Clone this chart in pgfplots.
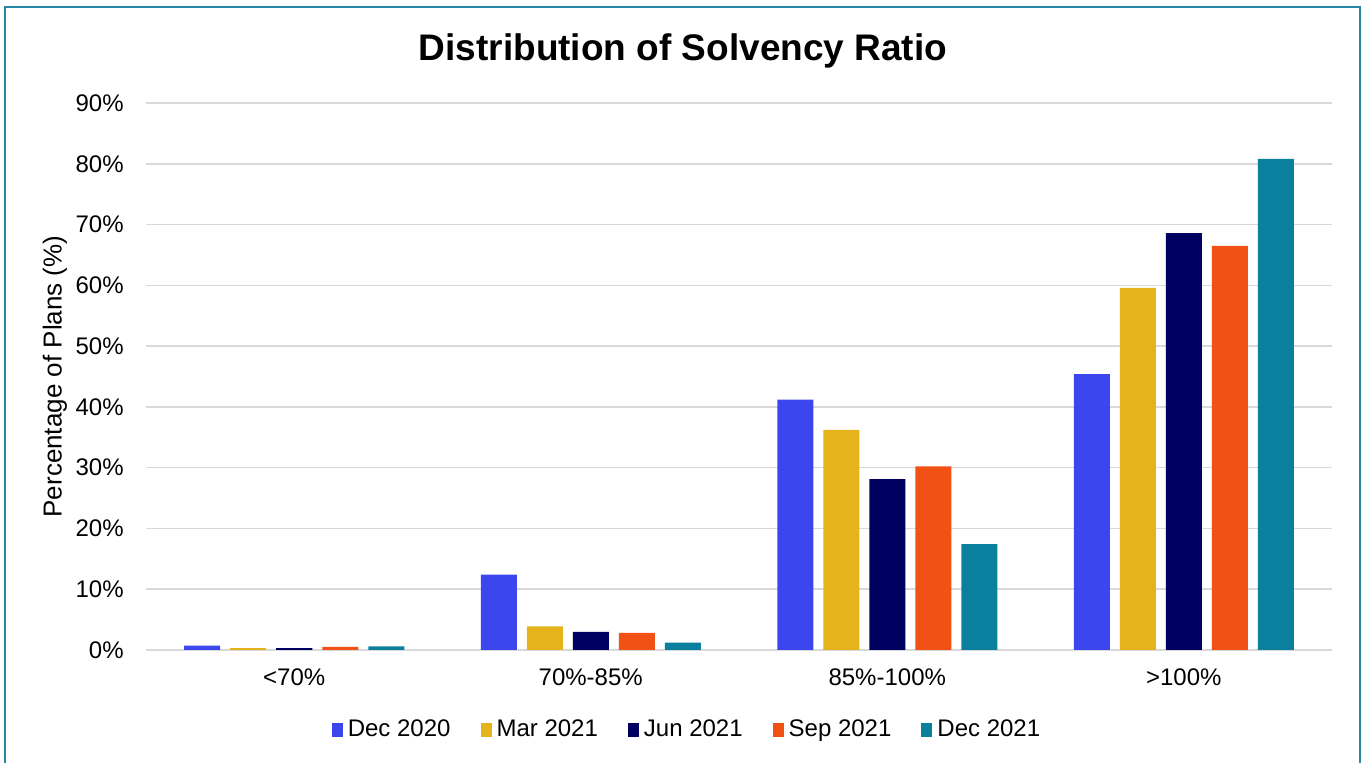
\documentclass[border=0pt]{standalone}
\usepackage{fontspec}
\setmainfont{Liberation Sans}
\usepackage{pgfplots}
\pgfplotsset{compat=1.18}
\definecolor{cA}{HTML}{3C46EE}
\definecolor{cB}{HTML}{E5B31C}
\definecolor{cC}{HTML}{000060}
\definecolor{cD}{HTML}{F25116}
\definecolor{cE}{HTML}{0A809E}
\definecolor{gridgray}{HTML}{D9D9D9}
\definecolor{frame}{HTML}{2A86A6}
\pgfplotsset{legsq/.style={legend image code/.code={\fill[##1] (0pt,-3.4pt) rectangle (5.5pt,3.4pt);}}}
\begin{document}
\begin{tikzpicture}
\path[use as bounding box] (0,0) rectangle (680.5pt,381.5pt);
\draw[color=frame, line width=0.9pt] (2.6pt,-3pt) -- (2.6pt,378pt) -- (680pt,378pt) -- (680pt,-3pt);
\node[font=\fontsize{18.5}{22}\selectfont\bfseries] at (341.5pt,356pt) {Distribution of Solvency Ratio};
\begin{axis}[
  at={(73pt,56.5pt)}, anchor=south west,
  scale only axis, width=593pt, height=273.5pt,
  ybar=5pt, bar width=18pt,
  xmin=-0.5, xmax=3.5, ymin=0, ymax=90,
  xtick={0,1,2,3},
  xticklabels={<70\%,70\%-85\%,85\%-100\%,>100\%},
  ytick={0,10,...,90},
  yticklabel={\pgfmathprintnumber{\tick}\%},
  /pgf/number format/assume math mode=true,
  ymajorgrids, grid style={color=gridgray, line width=0.8pt},
  axis x line*=bottom, axis y line*=left,
  x axis line style={color=gridgray, line width=0.9pt},
  y axis line style={draw=none},
  tick style={draw=none}, major tick length=0pt,
  tick label style={font=\fontsize{12}{14}\selectfont},
  xticklabel style={anchor=north, inner sep=0pt, yshift=-9pt},
  yticklabel style={anchor=east, inner sep=0pt, xshift=-11pt},
  ylabel={Percentage of Plans (\%)},
  every axis y label/.style={at={(axis description cs:-0.0767,0.5)}, rotate=90, anchor=center, font=\fontsize{13}{15}\selectfont},
  legend columns=5,
  legend style={draw=none, fill=none, font=\fontsize{12}{14}\selectfont,
    at={(0.4553,-0.1463)}, anchor=center,
    nodes={inner sep=0pt},
    /tikz/every odd column/.append style={column sep=2.5pt},
    /tikz/every even column/.append style={column sep=15pt}},
]
\addplot[fill=cA, draw=none, legsq] coordinates {(0,0.7) (1,12.4) (2,41.2) (3,45.4)};
\addplot[fill=cB, draw=none, legsq] coordinates {(0,0.3) (1,3.9) (2,36.2) (3,59.6)};
\addplot[fill=cC, draw=none, legsq] coordinates {(0,0.3) (1,3.0) (2,28.1) (3,68.6)};
\addplot[fill=cD, draw=none, legsq] coordinates {(0,0.5) (1,2.8) (2,30.2) (3,66.5)};
\addplot[fill=cE, draw=none, legsq] coordinates {(0,0.6) (1,1.2) (2,17.4) (3,80.8)};
\legend{Dec 2020,Mar 2021,Jun 2021,Sep 2021,Dec 2021}
\end{axis}
\end{tikzpicture}
\end{document}
